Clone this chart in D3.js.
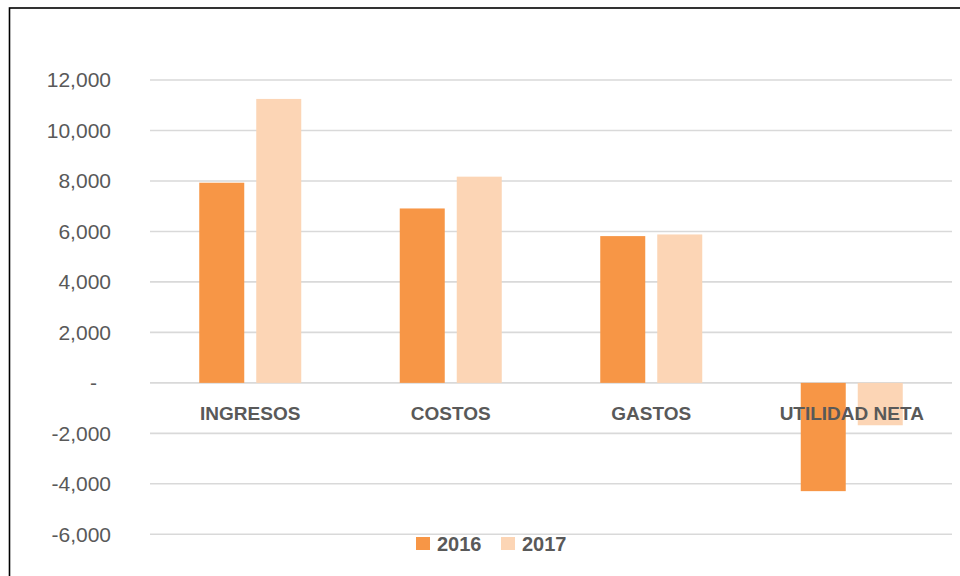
<!DOCTYPE html>
<html><head><meta charset="utf-8">
<script src="https://cdn.jsdelivr.net/npm/d3@7"></script>
<style>body{margin:0;background:#fff}svg{display:block}</style>
</head><body>
<script>
const categories = ["INGRESOS", "COSTOS", "GASTOS", "UTILIDAD NETA"];
const seriesNames = ["2016", "2017"];
const values2016 = [7930, 6910, 5815, -4290];
const values2017 = [11250, 8170, 5880, -1680];
const yTicks = [-6000, -4000, -2000, 0, 2000, 4000, 6000, 8000, 10000, 12000];
const colors = ["#F79646", "#FCD5B5"];

const W = 960, H = 576;
const svg = d3.select("body").append("svg").attr("width", W).attr("height", H);

// outer frame
svg.append("rect").attr("x", 9.5).attr("y", 8).attr("width", 1000).attr("height", 700)
  .attr("fill", "none").attr("stroke", "#000").attr("stroke-width", 1.6);

const x = d3.scaleBand().domain(categories).range([150, 952]).padding(0);
const y = d3.scaleLinear().domain([-6000, 12000]).range([534.3, 80]);
const x1 = d3.scaleBand().domain(seriesNames).range([0, 102]).paddingInner(0.2105);

// gridlines
svg.append("g").selectAll("line").data(yTicks).join("line")
  .attr("x1", 150).attr("x2", 952)
  .attr("y1", d => y(d)).attr("y2", d => y(d))
  .attr("stroke", "#D9D9D9").attr("stroke-width", 1.6);

// y axis labels
const locale = d3.formatLocale({decimal: ".", thousands: ",", grouping: [3], currency: ["$", ""], minus: "-"});
const fmt = locale.format(",");
const yAxis = d3.axisLeft(y).tickValues(yTicks).tickSize(0).tickPadding(0)
  .tickFormat(d => d === 0 ? "-" : fmt(d));
const ga = svg.append("g").attr("transform", "translate(111,0)").call(yAxis);
ga.select(".domain").remove();
ga.selectAll("text").attr("font-family", "Liberation Sans, Arial, sans-serif")
  .attr("font-size", 21).attr("fill", "#595959").attr("dx", d => d === 0 ? -14 : 0);

// bars
const data = categories.map((c, i) => ({c, vals: [values2016[i], values2017[i]]}));
const groups = svg.append("g").selectAll("g").data(data).join("g")
  .attr("transform", d => `translate(${x(d.c) + x.bandwidth()/2 - 51},0)`);
groups.selectAll("rect").data(d => d.vals.map((v, j) => ({s: seriesNames[j], v, j})))
  .join("rect")
  .attr("x", d => x1(d.s)).attr("width", x1.bandwidth())
  .attr("y", d => Math.min(y(d.v), y(0)))
  .attr("height", d => Math.abs(y(d.v) - y(0)))
  .attr("fill", d => colors[d.j]);

// category labels (drawn over bars)
svg.append("g").selectAll("text").data(categories).join("text")
  .attr("x", d => x(d) + x.bandwidth()/2).attr("y", 420)
  .attr("text-anchor", "middle")
  .attr("font-family", "Liberation Sans, Arial, sans-serif").attr("font-weight", "bold")
  .attr("font-size", 19).attr("fill", "#595959").text(d => d);

// legend
const legend = svg.append("g");
const lx = [416, 501];
seriesNames.forEach((s, i) => {
  legend.append("rect").attr("x", lx[i]).attr("y", 537).attr("width", 14).attr("height", 13).attr("fill", colors[i]);
  legend.append("text").attr("x", lx[i] + 21).attr("y", 551)
    .attr("font-family", "Liberation Sans, Arial, sans-serif").attr("font-weight", "bold")
    .attr("font-size", 20).attr("fill", "#595959").text(s);
});
</script>
</body></html>
